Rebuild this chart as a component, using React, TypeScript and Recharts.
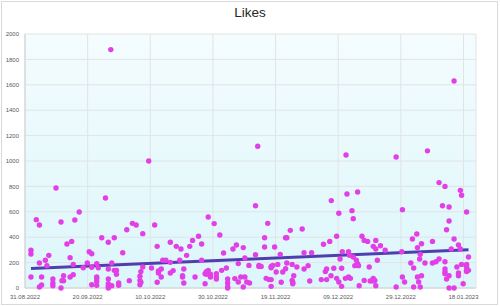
import React from "react";
import {
  ScatterChart,
  Scatter,
  XAxis,
  YAxis,
  CartesianGrid,
  ReferenceLine,
} from "recharts";

// Days since 31.08.2022 for each cluster of posts, and the likes of each post in it
const groupDays: number[] = [
  1.9, 3.6, 4.6, 5.3, 6.5, 7.0, 7.6, 8.9, 9.9, 11.5, 11.8, 12.3, 13.4, 14.4, 14.9, 15.4, 15.9,
  17.3, 18.6, 19.9, 20.5, 21.3, 22.9, 23.4, 24.5, 25.7, 26.6, 27.4, 27.7, 28.5, 29.2, 29.9,
  31.2, 32.5, 33.3, 34.3, 35.5, 36.7, 37.0, 37.6, 39.5, 40.4, 41.4, 42.2, 42.6, 43.5, 44.0,
  45.0, 46.4, 47.3, 48.3, 49.4, 49.8, 50.3, 50.7, 51.6, 52.6, 53.5, 54.3, 55.4, 56.4, 57.5,
  57.9, 58.5, 59.2, 60.4, 61.1, 62.2, 62.8, 63.4, 64.3, 64.7, 66.4, 67.0, 67.5, 68.1, 68.9,
  69.7, 70.2, 70.8, 71.5, 71.7, 73.6, 74.3, 74.7, 75.4, 76.5, 77.0, 77.5, 77.9, 78.6, 79.1,
  79.7, 80.2, 80.7, 81.5, 81.8, 82.3, 83.2, 83.6, 84.7, 85.3, 85.5, 85.8, 86.8, 88.5, 89.1,
  90.4, 90.9, 91.5, 94.6, 95.3, 95.9, 96.3, 97.3, 97.7, 97.8, 98.6, 99.5, 100.2, 100.6, 101.1,
  101.3, 102.3, 102.5, 102.8, 103.3, 103.6, 103.9, 104.4, 104.8, 105.3, 105.8, 106.2, 106.5,
  106.7, 107.6, 108.3, 109.4, 109.9, 110.2, 111.2, 111.7, 112.0, 112.5, 113.5, 115.0, 118.5,
  120.3, 120.5, 121.2, 123.2, 123.7, 124.1, 125.1, 125.3, 125.7, 126.0, 126.2, 126.6, 127.7,
  128.5, 130.1, 131.2, 132.2, 133.3, 134.1, 134.6, 135.4, 136.1, 137.0, 137.9, 138.4, 139.0,
  139.4, 139.9, 141.0, 141.6,
];

const groupLikes: number[][] = [
  [297, 268, 87], [538], [496, 197, 8], [87, 24], [218], [176], [257], [71, 39, 18], [787],
  [520, 0], [58], [97, 58], [346], [239, 87], [367], [186, 105], [535],
  [598], [160], [197], [286], [270, 163, 26], [192, 87, 74, 52, 21], [160], [396], [709],
  [360, 150, 71, 34, 13, 0], [1877], [197, 18], [396, 139], [139, 108], [39, 21],
  [278], [459], [58], [509], [496], [92, 60, 26], [129, 45], [428, 165], [1000], [157], [496],
  [328, 45], [134, 118], [150, 87], [218],
  [218], [360, 202, 118], [137], [328], [218], [307], [97, 87], [150, 39], [257], [328], [375],
  [87], [407], [346, 218], [113, 34],
  [129, 108], [559, 139], [108, 87], [507], [113, 87, 71], [417], [139], [276], [157],
  [71, 39, 8, 0], [307], [74], [339], [192, 47], [87],
  [318, 8], [236, 87], [47], [178], [39], [648, 262], [1116], [178, 170], [170], [396, 323],
  [76], [509], [66], [66, 13, 170, 160], [178],
  [323], [126], [186], [265], [45], [126], [396, 152], [396, 197], [454], [186, 60], [45, 34],
  [97], [165], [465], [278, 150],
  [176], [55], [278], [66], [344], [129], [150, 66], [367], [97], [688], [155], [407, 76],
  [588, 47], [228], [155, 13],
  [286], [76], [1047], [740], [286, 87], [257], [76], [609], [546, 244], [176], [218],
  [756, 192], [176],
  [18], [407], [375, 60], [367], [165], [55], [328, 76, 55], [60], [375, 307, 18], [218],
  [333], [297], [1032, 8],
  [286], [617, 87], [47], [197], [386], [157, 8], [425], [318, 87], [47], [228], [265, 8],
  [349, 97], [197],
  [1080], [367, 197], [207], [830, 228], [648], [800, 150, 126, 113, 207], [459, 71],
  [638, 528, 97, 0], [307], [386, 0, 1630], [165], [339, 118, 97], [769, 307],
  [730, 186], [34], [598, 186, 165, 129, 139], [244, 139],
];

// Trend line end points
const trendDays: number[] = [1.9, 141.6];
const trendLikes: number[] = [154, 301];

const xTickDays: number[] = [0, 20, 40, 60, 80, 100, 120, 140];
const xTickLabels: string[] = [
  "31.08.2022", "20.09.2022", "10.10.2022", "30.10.2022",
  "19.11.2022", "09.12.2022", "29.12.2022", "18.01.2023",
];
const yTicks: number[] = [0, 200, 400, 600, 800, 1000, 1200, 1400, 1600, 1800, 2000];

const points = groupDays.flatMap((d, i) => groupLikes[i].map((v) => ({ day: d, likes: v })));

const FONT = "'Liberation Sans', Arial, sans-serif";

const Dot = (props: any) => {
  const { cx, cy } = props;
  if (cx == null || cy == null) return null;
  return <circle cx={cx} cy={cy} r={2.7} fill="#e23fe6" />;
};

export default function App() {
  return (
    <div style={{ position: "absolute", left: 0, top: 0, width: 500, height: 306, background: "#fff" }}>
      <div
        style={{
          position: "absolute",
          left: 1,
          top: 1,
          width: 495,
          height: 302,
          border: "1px solid #d9d9d9",
        }}
      />
      <div
        style={{
          position: "absolute",
          left: 0,
          top: 5,
          width: 500,
          textAlign: "center",
          fontFamily: FONT,
          fontSize: 13.5,
          color: "#262626",
        }}
      >
        Likes
      </div>
      <div style={{ position: "absolute", left: 0, top: 0 }}>
        <ScatterChart
          width={500}
          height={306}
          margin={{ top: 34, right: 24, left: 0, bottom: 0 }}
        >
          <defs>
            <linearGradient id="plotBg" x1="0" y1="0" x2="0" y2="1">
              <stop offset="0%" stopColor="#f4fcfe" />
              <stop offset="100%" stopColor="#dcf6fb" />
            </linearGradient>
          </defs>
          <CartesianGrid stroke="#e0e4e5" fill="url(#plotBg)" />
          <XAxis
            type="number"
            dataKey="day"
            domain={[0, 144]}
            ticks={xTickDays}
            tickFormatter={(v: number) => xTickLabels[xTickDays.indexOf(v)] ?? ""}
            height={18}
            tickLine={false}
            tickSize={0}
            tickMargin={7}
            axisLine={{ stroke: "#d0d0d0" }}
            tick={{ fontSize: 6, fill: "#595959", fontFamily: FONT }}
            interval={0}
            allowDataOverflow
          />
          <YAxis
            type="number"
            dataKey="likes"
            domain={[0, 2000]}
            ticks={yTicks}
            width={25}
            tickLine={false}
            tickSize={0}
            tickMargin={6}
            axisLine={{ stroke: "#d0d0d0" }}
            tick={{ fontSize: 6, fill: "#595959", fontFamily: FONT }}
            interval={0}
          />
          <Scatter data={points} shape={Dot} isAnimationActive={false} />
          <ReferenceLine
            segment={[
              { x: trendDays[0], y: trendLikes[0] },
              { x: trendDays[1], y: trendLikes[1] },
            ]}
            stroke="#4f3fae"
            strokeWidth={3}
            ifOverflow="visible"
          />
        </ScatterChart>
      </div>
    </div>
  );
}
